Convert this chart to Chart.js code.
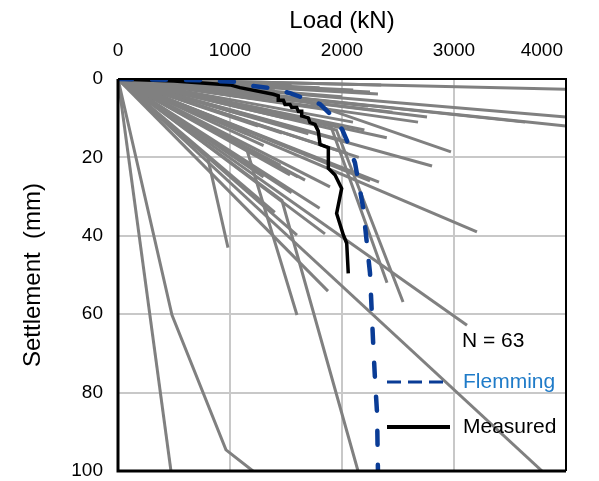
<!DOCTYPE html>
<html>
<head>
<meta charset="utf-8">
<script src="https://cdn.jsdelivr.net/npm/chart.js@4/dist/chart.umd.min.js"></script>
<style>
html,body{margin:0;padding:0;background:#fff;}
#wrap{width:599px;height:481px;position:relative;}
</style>
</head>
<body>
<div id="wrap"><canvas id="c" width="599" height="481"></canvas></div>
<script>
// ---- data (Load kN, Settlement mm) ----
const xTicks = [0, 1000, 2000, 3000, 4000];
const yTicks = [0, 20, 40, 60, 80, 100];

const measuredLoad = [0, 500, 1000, 1089, 1387, 1431, 1431, 1476, 1491, 1536, 1551, 1595, 1610, 1640, 1640, 1699, 1714, 1759, 1788, 1804, 1878, 1878, 1938, 1997, 1952, 2012, 2042, 2056];
const measuredSett = [0, 0.5, 1.5, 2.2, 3.9, 4.3, 5.4, 5.4, 6.5, 6.5, 7.3, 7.3, 8.2, 8.2, 9.4, 9.9, 11.1, 11.6, 13.3, 16.7, 17.5, 22.8, 24.5, 27.9, 34.3, 39.8, 41.9, 49.6];

const flemmingLoad = [0, 732, 1089, 1205, 1357, 1536, 1804, 1893, 2000, 2045, 2116, 2188, 2250, 2277, 2295, 2313, 2321];
const flemmingSett = [0, 0.3, 0.8, 1.8, 2.3, 3.6, 6.4, 8.9, 12.8, 15.8, 21.4, 32.7, 49.5, 66.6, 76.8, 85.2, 100];

// database pile load tests: each curve is a list of [load, settlement]
const pileCurves = [
  [[0,0],[4000,2.6]],
  [[0,0],[4000,9.7]],
  [[0,0],[4000,12.0]],
  [[0,0],[3634,11.0]],
  [[0,0],[2759,9.7]],
  [[0,0],[2679,11.0]],
  [[0,0],[2321,3.8]],
  [[0,0],[2098,11.0]],
  [[0,0],[1600,5],[2973,18.6]],
  [[0,0],[2804,22.2]],
  [[0,0],[2330,26.3]],
  [[0,0],[3205,39.0]],
  [[0,0],[3116,62.8]],
  [[0,0],[1950,13],[2545,56.9]],
  [[0,0],[1900,12],[2402,52.0]],
  [[0,0],[3786,100]],
  [[0,0],[1848,39.5]],
  [[0,0],[1875,54.1]],
  [[0,0],[1150,18],[1598,60.2]],
  [[0,0],[473,100]],
  [[0,0],[482,60.2],[964,94.6],[1205,100]],
  [[0,0],[1464,31],[2143,100]],
  [[0,0],[800,20],[982,43]],
  [[0,0],[2232,6.9]],
  [[0,0],[2250,3.3]],
  [[0,0],[1464,13.8]],
  [[0,0],[1607,25]],
  [[0,0],[1893,27.5]],
  [[0,0],[1536,24.5]],
  [[0,0],[1670,25.8]],
  [[0,0],[1598,39.8]],
  [[0,0],[1200,5]],
  [[0,0],[1350,8]],
  [[0,0],[1500,10]],
  [[0,0],[1700,14]],
  [[0,0],[1900,8]],
  [[0,0],[2050,16]],
  [[0,0],[1300,17]],
  [[0,0],[1750,20]],
  [[0,0],[2100,24]],
  [[0,0],[1450,22]],
  [[0,0],[1800,2.2]],
  [[0,0],[1550,1.6]],
  [[0,0],[2450,8.5]],
  [[0,0],[2200,13]],
  [[0,0],[1000,3]],
  [[0,0],[1650,5.5]],
  [[0,0],[2400,15]],
  [[0,0],[1400,34]],
  [[0,0],[1250,12]],
  [[0,0],[2250,26]],
  [[0,0],[1800,33]],
  [[0,0],[2150,20]],
  [[0,0],[2350,1.5]],
  [[0,0],[2100,2.8]],
  [[0,0],[1550,29]],
  [[0,0],[1100,9]],
  [[0,0],[1750,7]],
  [[0,0],[2000,4.5]],
  [[0,0],[1400,3]],
  [[0,0],[2050,19]],
  [[0,0],[1150,14]],
  [[0,0],[1300,25]]
];

const nLabel = 'N = ' + pileCurves.length;
const legendNames = ['Flemming', 'Measured'];

// ---- build datasets ----
const toPts = (xs, ys) => xs.map((x, i) => ({x: x, y: ys[i]}));
const datasets = [];
datasets.push({
  label: legendNames[0],
  data: toPts(flemmingLoad, flemmingSett),
  borderColor: '#0a3c96', borderWidth: 4.5, borderDash: [14, 20],
  borderCapStyle: 'round', pointRadius: 0, fill: false, tension: 0
});
datasets.push({
  label: legendNames[1],
  data: toPts(measuredLoad, measuredSett),
  borderColor: '#000000', borderWidth: 3.5, pointRadius: 0, fill: false,
  borderJoinStyle: 'miter', tension: 0
});
pileCurves.forEach((c, i) => {
  datasets.push({
    label: 'pile' + (i + 1),
    data: c.map(p => ({x: p[0], y: p[1]})),
    borderColor: '#808080', borderWidth: 3, pointRadius: 0, fill: false, tension: 0
  });
});

const FONT = 'Liberation Sans, Arial, sans-serif';

const frameAndLegend = {
  id: 'frameAndLegend',
  beforeDraw(chart) {
    // keep the last top tick label inside the canvas (right aligned), like the original
    const xs = chart.scales.x;
    const items = xs.getLabelItems();
    const last = items[items.length - 1];
    if (last && last.options.textAlign !== 'right') {
      last.options.textAlign = 'right';
      last.options.translation = [chart.width - 36, last.options.translation[1]];
    }
  },
  afterDatasetsDraw(chart) {
    const ctx = chart.ctx;
    const a = chart.chartArea;
    ctx.save();
    // frame
    ctx.strokeStyle = '#000';
    ctx.lineWidth = 2;
    ctx.beginPath();
    ctx.moveTo(a.left, a.top); ctx.lineTo(a.right, a.top); ctx.lineTo(a.right, a.bottom);
    ctx.stroke();
    ctx.lineWidth = 3;
    ctx.beginPath();
    ctx.moveTo(a.left, a.top); ctx.lineTo(a.left, a.bottom); ctx.lineTo(a.right, a.bottom);
    ctx.stroke();

    // legend inside plot
    const lx0 = a.right - 179, lx1 = a.right - 116, tx = a.right - 103;
    ctx.font = '21px ' + FONT;
    ctx.textBaseline = 'middle';
    ctx.textAlign = 'left';
    ctx.fillStyle = '#000';
    ctx.fillText(nLabel, tx - 1, a.bottom - 130);

    ctx.strokeStyle = '#0a3c96';
    ctx.lineWidth = 3;
    ctx.setLineDash([14, 7]);
    ctx.beginPath();
    ctx.moveTo(lx0, a.bottom - 89); ctx.lineTo(lx1, a.bottom - 89);
    ctx.stroke();
    ctx.setLineDash([]);
    ctx.fillStyle = '#1f7bc8';
    ctx.fillText(legendNames[0], tx, a.bottom - 89);

    ctx.strokeStyle = '#000';
    ctx.lineWidth = 4;
    ctx.beginPath();
    ctx.moveTo(lx0, a.bottom - 44); ctx.lineTo(lx1, a.bottom - 44);
    ctx.stroke();
    ctx.fillStyle = '#000';
    ctx.fillText(legendNames[1], tx, a.bottom - 44);
    ctx.restore();
  }
};

const zeroPad = s => { s.paddingLeft = 0; s.paddingRight = 0; s.paddingTop = 0; s.paddingBottom = 0; };

new Chart(document.getElementById('c'), {
  type: 'line',
  data: {datasets: datasets},
  plugins: [frameAndLegend],
  options: {
    responsive: false,
    animation: false,
    events: [],
    layout: {padding: {left: 0, right: 33, top: 0, bottom: 10}},
    plugins: {legend: {display: false}, tooltip: {enabled: false}},
    scales: {
      x: {
        type: 'linear', position: 'top', min: 0, max: 4000,
        afterBuildTicks: s => { s.ticks = xTicks.map(v => ({value: v})); },
        afterFit: s => { s.height = 79; zeroPad(s); },
        ticks: {color: '#000', font: {family: FONT, size: 19}, padding: 17, maxRotation: 0, callback: v => String(v)},
        grid: {color: '#c8c8c8', lineWidth: 2, drawTicks: false},
        border: {display: false},
        title: {display: true, text: 'Load (kN)', color: '#000', font: {family: FONT, size: 24}, padding: {top: 7, bottom: 0}}
      },
      y: {
        type: 'linear', reverse: true, min: 0, max: 100,
        afterBuildTicks: s => { s.ticks = yTicks.map(v => ({value: v})); },
        afterFit: s => { s.width = 118; zeroPad(s); },
        ticks: {color: '#000', font: {family: FONT, size: 19}, padding: 15, callback: v => String(v)},
        grid: {color: '#c8c8c8', lineWidth: 2, drawTicks: false},
        border: {display: false},
        title: {display: true, text: 'Settlement  (mm)', color: '#000', font: {family: FONT, size: 24}, padding: {top: 19, bottom: 0}}
      }
    }
  }
});
</script>
</body>
</html>
